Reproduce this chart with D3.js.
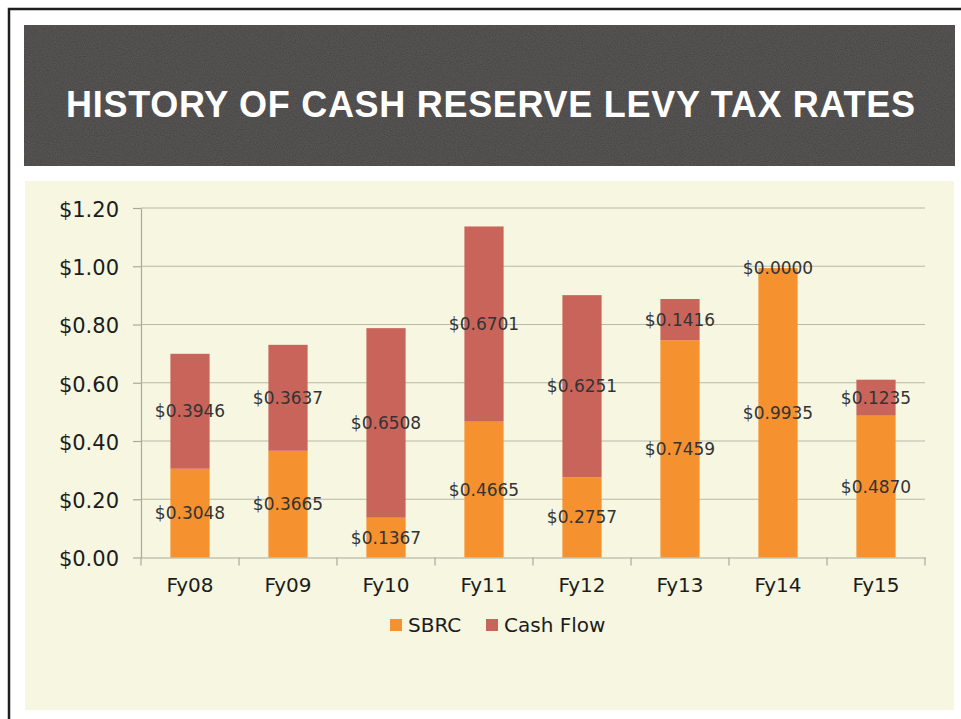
<!DOCTYPE html>
<html>
<head>
<meta charset="utf-8">
<script src="https://cdn.jsdelivr.net/npm/d3@7"></script>
<style>
  html, body { margin: 0; padding: 0; background: #ffffff; }
  svg { display: block; }
</style>
</head>
<body>
<script>
// Levy rates per fiscal year, split into the two funding components
const categories = ["Fy08", "Fy09", "Fy10", "Fy11", "Fy12", "Fy13", "Fy14", "Fy15"];
const sbrc       = [0.3048, 0.3665, 0.1367, 0.4665, 0.2757, 0.7459, 0.9935, 0.4870];
const cashFlow   = [0.3946, 0.3637, 0.6508, 0.6701, 0.6251, 0.1416, 0.0000, 0.1235];
const seriesNames = ["SBRC", "Cash Flow"];
const yTicks = [0, 0.2, 0.4, 0.6, 0.8, 1.0, 1.2];
const titleText = "HISTORY OF CASH RESERVE LEVY TAX RATES";

const W = 961, H = 719;
const colors = { "SBRC": "#f5912e", "Cash Flow": "#c9645a" };
const money = v => "$" + v.toFixed(2);
const money4 = v => "$" + v.toFixed(4);

const svg = d3.select("body").append("svg")
  .attr("width", W).attr("height", H);

// grain texture for the title banner
const defs = svg.append("defs");
const grain = defs.append("filter").attr("id", "grain")
  .attr("x", 0).attr("y", 0).attr("width", 1).attr("height", 1);
grain.append("feTurbulence").attr("type", "fractalNoise")
  .attr("baseFrequency", "0.85").attr("numOctaves", 2).attr("seed", 7).attr("result", "n");
grain.append("feColorMatrix").attr("in", "n").attr("type", "matrix")
  .attr("values", "1 0 0 0 0  1 0 0 0 0  1 0 0 0 0  0 0 0 0 0.16").attr("result", "g");
grain.append("feComposite").attr("in", "g").attr("in2", "SourceGraphic").attr("operator", "in");

// page frame (open on the right and bottom)
svg.append("path")
  .attr("d", `M${W},9 L9,9 L9,${H}`)
  .attr("fill", "none").attr("stroke", "#1e1e1e").attr("stroke-width", 2.5);

// title banner
svg.append("rect").attr("x", 24).attr("y", 25).attr("width", 931).attr("height", 141)
  .attr("fill", "#3d3a3a");
svg.append("rect").attr("x", 24).attr("y", 25).attr("width", 931).attr("height", 141)
  .attr("fill", "#000").attr("filter", "url(#grain)");
svg.append("text")
  .attr("x", 66).attr("y", 117)
  .attr("textLength", 849).attr("lengthAdjust", "spacing")
  .attr("font-family", "Liberation Sans, Arial, sans-serif")
  .attr("font-weight", "bold").attr("font-size", 36)
  .attr("fill", "#ffffff")
  .text(titleText);

// chart panel
svg.append("rect").attr("x", 25).attr("y", 181).attr("width", 929).attr("height", 529)
  .attr("fill", "#f6f6e1");

const plot = { left: 141, right: 925, top: 208, bottom: 557.5 };

const x = d3.scaleBand().domain(categories)
  .range([plot.left, plot.right]).paddingInner(0.6).paddingOuter(0.3);
const y = d3.scaleLinear().domain([0, 1.2]).range([plot.bottom, plot.top]);

// horizontal gridlines
svg.append("g").selectAll("line").data(yTicks.filter(d => d > 0)).join("line")
  .attr("x1", plot.left).attr("x2", plot.right)
  .attr("y1", d => y(d)).attr("y2", d => y(d))
  .attr("stroke", "#b8baa5").attr("stroke-width", 1.2);

// y axis
const yAxis = svg.append("g").attr("transform", `translate(${plot.left},0)`)
  .call(d3.axisLeft(y).tickValues(yTicks).tickFormat(money)
    .tickSizeInner(8).tickSizeOuter(0).tickPadding(14));
yAxis.select(".domain").attr("stroke", "#a9ab98").attr("stroke-width", 1.2);
yAxis.selectAll(".tick line").attr("stroke", "#a9ab98").attr("stroke-width", 1.2);
yAxis.selectAll(".tick text")
  .attr("dy", "0.4em")
  .attr("font-family", "DejaVu Sans, sans-serif").attr("font-size", 21)
  .attr("fill", "#1c1c1c");

// stacked bars
const table = categories.map((c, i) => ({ cat: c, "SBRC": sbrc[i], "Cash Flow": cashFlow[i] }));
const stacked = d3.stack().keys(seriesNames)(table);

const layers = svg.append("g").selectAll("g").data(stacked).join("g")
  .attr("fill", d => colors[d.key]);
layers.selectAll("rect").data(d => d).join("rect")
  .attr("x", d => x(d.data.cat))
  .attr("width", x.bandwidth())
  .attr("y", d => y(d[1]))
  .attr("height", d => y(d[0]) - y(d[1]));

// x axis
const xAxis = svg.append("g").attr("transform", `translate(0,${plot.bottom})`)
  .call(d3.axisBottom(x).tickSize(0).tickPadding(20));
xAxis.select(".domain").attr("stroke", "#a9ab98").attr("stroke-width", 1.2);
xAxis.selectAll(".tick text")
  .attr("font-family", "DejaVu Sans, sans-serif").attr("font-size", 20)
  .attr("fill", "#1c1c1c");
// tick marks between categories
const bounds = d3.range(categories.length + 1).map(i => plot.left + i * (plot.right - plot.left) / categories.length);
xAxis.selectAll(".sep").data(bounds).join("line").attr("class", "sep")
  .attr("x1", d => d).attr("x2", d => d).attr("y1", 0).attr("y2", 8)
  .attr("stroke", "#a9ab98").attr("stroke-width", 1.2);

// value labels centred in each segment
const labels = svg.append("g")
  .attr("font-family", "DejaVu Sans, sans-serif").attr("font-size", 17)
  .attr("fill", "#333333").attr("text-anchor", "middle");
stacked.forEach(layer => {
  labels.selectAll(null).data(layer).join("text")
    .attr("x", d => x(d.data.cat) + x.bandwidth() / 2)
    .attr("y", d => y((d[0] + d[1]) / 2))
    .attr("dy", "0.36em")
    .text(d => money4(d.data[layer.key]));
});

// legend
const legendItems = [
  { name: "SBRC", sx: 390 },
  { name: "Cash Flow", sx: 486 }
];
const legend = svg.append("g");
legend.selectAll("rect").data(legendItems).join("rect")
  .attr("x", d => d.sx).attr("y", 619).attr("width", 12).attr("height", 12)
  .attr("fill", d => colors[d.name]);
legend.selectAll("text").data(legendItems).join("text")
  .attr("x", d => d.sx + 18).attr("y", 632)
  .attr("font-family", "DejaVu Sans, sans-serif").attr("font-size", 20)
  .attr("fill", "#1c1c1c")
  .text(d => d.name);
</script>
</body>
</html>
